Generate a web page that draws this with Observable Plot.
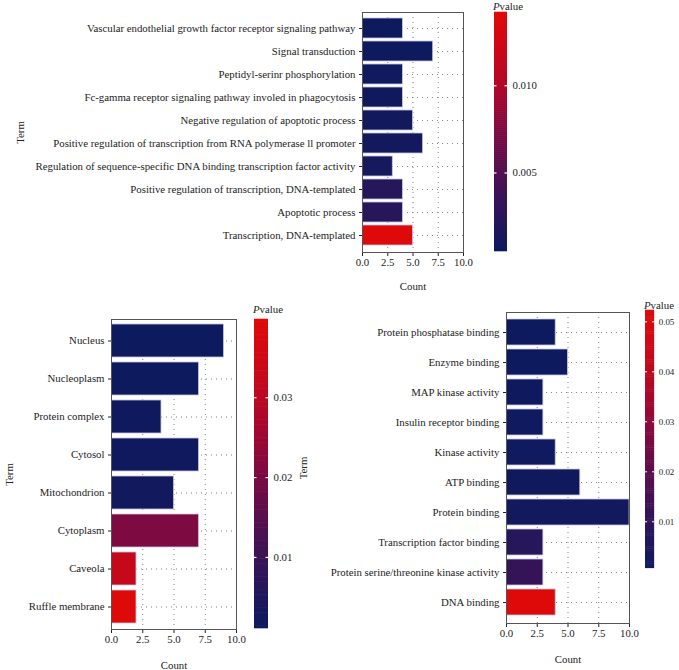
<!DOCTYPE html>
<html>
<head>
<meta charset="utf-8">
<script src="https://cdn.jsdelivr.net/npm/d3@7"></script>
<script src="https://cdn.jsdelivr.net/npm/@observablehq/plot@0.6"></script>
<style>
  html, body { margin: 0; padding: 0; background: #fff; }
  #wrap { position: relative; width: 679px; height: 670px; overflow: hidden; font-family: "Liberation Serif", "DejaVu Serif", serif; }
  #wrap > div.p { position: absolute; }
  .ttl { position: absolute; font-size: 10.8px; line-height: 12px; color: #222; font-family: "Liberation Serif", serif; white-space: nowrap; }
  svg { overflow: visible; }
</style>
</head>
<body>
<div id="wrap"></div>
<script>
// ---- Data ----
const bpTerms = [
  "Vascular endothelial growth factor receptor signaling pathway",
  "Signal transduction",
  "Peptidyl-serinr phosphorylation",
  "Fc-gamma receptor signaling pathway involed in phagocytosis",
  "Negative regulation of apoptotic process",
  "Positive regulation of transcription from RNA polymerase ll promoter",
  "Regulation of sequence-specific DNA binding transcription factor activity",
  "Positive regulation of transcription, DNA-templated",
  "Apoptotic process",
  "Transcription, DNA-templated"
];
const bpCounts = [4, 7, 4, 4, 5, 6, 3, 4, 4, 5];
const bpPvalues = [0.0005, 0.0006, 0.0007, 0.0008, 0.0009, 0.0010, 0.0012, 0.0023, 0.0024, 0.0142];
const bpTicks = [0.005, 0.010];

const ccTerms = ["Nucleus", "Nucleoplasm", "Protein complex", "Cytosol", "Mitochondrion", "Cytoplasm", "Caveola", "Ruffle membrane"];
const ccCounts = [9, 7, 4, 7, 5, 7, 2, 2];
const ccPvalues = [0.0011, 0.0013, 0.0016, 0.0018, 0.0022, 0.0205, 0.0325, 0.0398];
const ccTicks = [0.01, 0.02, 0.03];

const mfTerms = [
  "Protein phosphatase binding",
  "Enzyme binding",
  "MAP kinase activity",
  "Insulin receptor binding",
  "Kinase activity",
  "ATP binding",
  "Protein binding",
  "Transcription factor binding",
  "Protein serine/threonine kinase activity",
  "DNA binding"
];
const mfCounts = [4, 5, 3, 3, 4, 6, 10, 3, 3, 4];
const mfPvalues = [0.0007, 0.0009, 0.0012, 0.0014, 0.0016, 0.0018, 0.0020, 0.0074, 0.0110, 0.0523];
const mfTicks = [0.01, 0.02, 0.03, 0.04, 0.05];

const countTicks = [0, 2.5, 5, 7.5, 10];

// ---- Style ----
const FONT = "Liberation Serif, DejaVu Serif, serif";
const interp = d3.interpolateRgbBasis(["#0d1a5e", "#3c1357", "#7b0944", "#c2071f", "#de0a0a"]);
const wrap = document.getElementById("wrap");

function place(node, left, top) {
  const d = document.createElement("div");
  d.className = "p";
  d.style.left = left + "px";
  d.style.top = top + "px";
  d.appendChild(node);
  wrap.appendChild(d);
}
function title(left, top) {
  const d = document.createElement("div");
  d.className = "ttl";
  d.innerHTML = "<i>P</i>value";
  d.style.left = left + "px";
  d.style.top = top + "px";
  wrap.appendChild(d);
}

function panel(terms, counts, pvals, o) {
  const data = terms.map((t, i) => ({term: t, count: counts[i], p: pvals[i]}));
  const ext = d3.extent(pvals);
  const chart = Plot.plot({
    width: o.width, height: o.height,
    marginLeft: o.ml, marginRight: o.mr, marginTop: o.mt, marginBottom: o.mb,
    style: {fontFamily: FONT, fontSize: "10.8px", color: "#222", background: "transparent"},
    x: {domain: [0, 10], ticks: countTicks, tickFormat: ".1f", tickSize: 4, tickPadding: 2,
        label: "Count", labelAnchor: "center", labelOffset: o.xlo, labelArrow: "none"},
    y: {domain: terms, padding: o.pad ?? 0.1, tickSize: 3, tickPadding: 4,
        label: "Term", labelAnchor: "center", labelOffset: o.ylo, labelArrow: "none"},
    color: {type: "linear", domain: ext, interpolate: () => interp},
    marks: [
      Plot.gridX(countTicks.slice(1, -1), {stroke: "#777", strokeOpacity: 0.9, strokeDasharray: "1,4"}),
      Plot.gridY(terms, {stroke: "#777", strokeOpacity: 0.9, strokeDasharray: "1,4"}),
      Plot.barX(data, {y: "term", x: "count", fill: "p", stroke: "#c9c6e6", strokeWidth: 0.8, clip: true}),
      Plot.frame({stroke: "#555", strokeWidth: 1})
    ]
  });
  place(chart, o.left, o.top);

  // colour bar
  const n = 120;
  const steps = d3.range(n).map(i => ({
    a: ext[0] + (ext[1] - ext[0]) * i / n,
    b: ext[0] + (ext[1] - ext[0]) * (i + 1) / n
  }));
  const bar = Plot.plot({
    width: o.cbw + o.cbmr, height: o.height,
    marginLeft: 0, marginRight: o.cbmr, marginTop: o.mt, marginBottom: o.cbmb,
    style: {fontFamily: FONT, fontSize: "10.8px", color: "#222", background: "transparent"},
    x: {axis: null, domain: [0, 1]},
    y: {domain: ext, axis: "right", ticks: o.ticks, tickFormat: o.fmt, tickSize: 0, tickPadding: 5, label: null},
    color: {type: "linear", domain: ext, interpolate: () => interp},
    marks: [
      Plot.rectY(steps, {y1: "a", y2: "b", fill: d => (d.a + d.b) / 2, inset: 0, insetTop: -0.3, insetBottom: -0.3}),
      Plot.tickY(o.ticks, {y: d => d, stroke: "white", strokeWidth: 1.2, insetRight: o.cbw - 2.5}),
      Plot.tickY(o.ticks, {y: d => d, stroke: "white", strokeWidth: 1.2, insetLeft: o.cbw - 2.5})
    ]
  });
  place(bar, o.cbx, o.top);
  title(o.cbx - 1, o.top + o.tt);
}

panel(bpTerms, bpCounts, bpPvalues, {
  left: 0, top: 0, width: 470, height: 300, ml: 362, mr: 7, mt: 12, mb: 48,
  xlo: 37, ylo: 346, pad: 0.12,
  cbx: 494, cbw: 13, cbmr: 50, cbmb: 49, ticks: bpTicks, fmt: ".3f", tt: 0
});
panel(ccTerms, ccCounts, ccPvalues, {
  left: 0, top: 300, width: 245, height: 370, ml: 111, mr: 9, mt: 19, mb: 41,
  xlo: 39, ylo: 106, pad: 0.12,
  cbx: 254, cbw: 14, cbmr: 40, cbmb: 42, ticks: ccTicks, fmt: ".2f", tt: 3
});
panel(mfTerms, mfCounts, mfPvalues, {
  left: 290, top: 300, width: 345, height: 370, ml: 216, mr: 6, mt: 12, mb: 47,
  xlo: 39, ylo: 207, pad: 0.12,
  cbx: 645, cbw: 11, cbmr: 30, cbmb: 47, ticks: mfTicks, fmt: ".2f", tt: -1.5
});
</script>
</body>
</html>
